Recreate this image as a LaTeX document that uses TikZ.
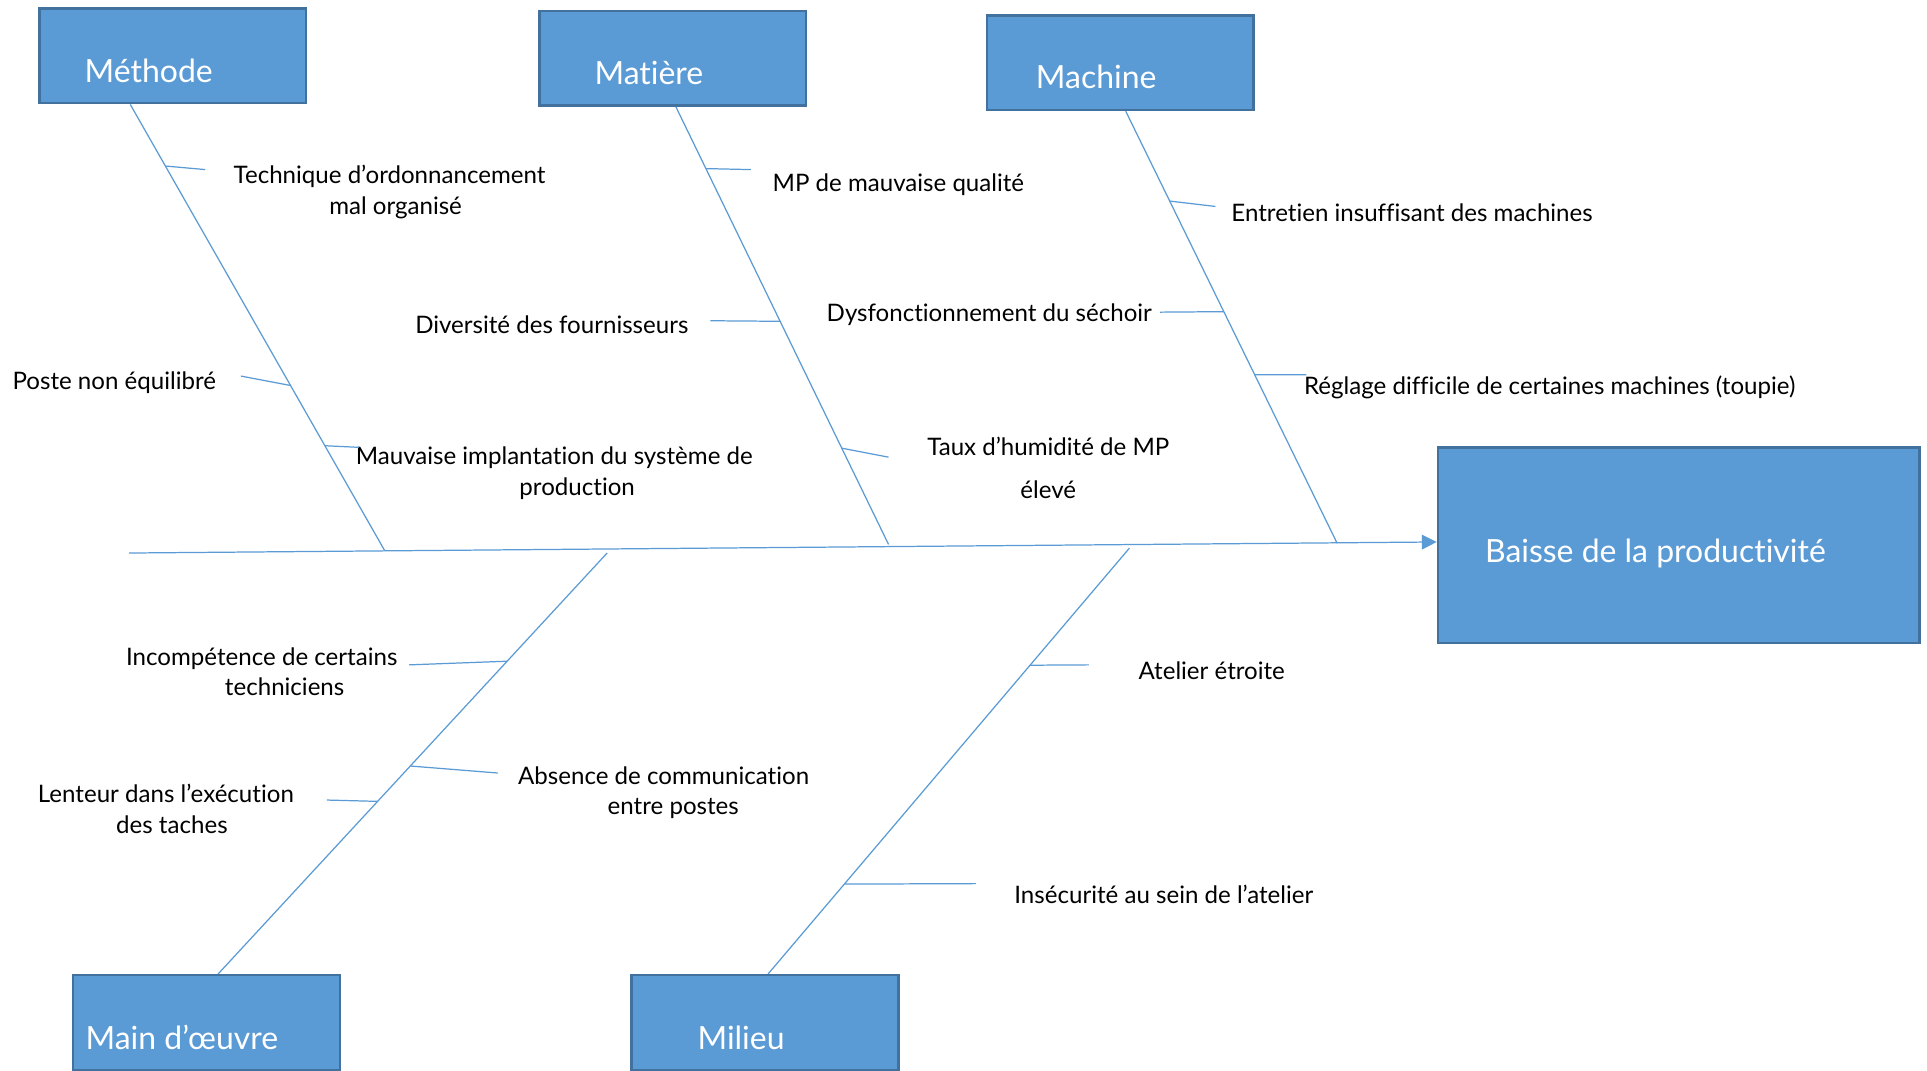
\documentclass[tikz,border=0pt]{standalone}
\usepackage{fontspec}
\setmainfont{Lato}[Ligatures=NoCommon]
\usetikzlibrary{arrows.meta,calc}
\definecolor{boxfill}{HTML}{5B9BD5}
\definecolor{boxedge}{HTML}{41719C}
\definecolor{bonecol}{HTML}{5B9BD5}
\tikzset{
  catbox/.style={draw=boxedge, line width=1pt, fill=boxfill, minimum width=108.5pt, minimum height=38.5pt, inner sep=0pt},
  cattext/.style={text=white, font=\fontsize{13}{16}\selectfont, inner sep=0pt, anchor=base},
  cause/.style={font=\fontsize{9.8}{12.5}\selectfont, align=center, inner sep=0pt},
  bone/.style={draw=bonecol, line width=0.5pt},
}
\begin{document}
\begin{tikzpicture}[x=0.5pt,y=-0.5pt]
\clip (0,0) rectangle (1568,871);
\fill[white] (0,0) rectangle (1568,871);

% category boxes
\node[catbox] (meth) at (140.5,45.5) {};
\node[catbox] (mat)  at (547.5,47.5) {};
\node[catbox] (mach) at (911.5,51) {};
\node[catbox] (mo)   at (168,832) {};
\node[catbox] (mil)  at (622.5,832) {};
\node[catbox, minimum width=196pt, minimum height=79.5pt] (eff) at (1366,443.5) {};

\node[cattext] (methT) at (121,67) {Méthode};
\node[cattext] (matT)  at (528,69) {Matière};
\node[cattext] (machT) at (892,72) {Machine};
\node[cattext] (moT)   at (148,854) {Main d’œuvre};
\node[cattext] (milT)  at (603,854) {Milieu};
\node[cattext] (effT)  at (1347,458) {Baisse de la productivité};

% spine
\coordinate (tail) at (105,450);
\coordinate (tip) at (1169,441);
\draw[bone, -{Triangle[length=6pt,width=6pt]}] (tail) -- (tip);

% main bones, from each category box to the spine
\coordinate (methS) at (313,448);
\coordinate (matS)  at (723,443);
\coordinate (machS) at (1088,442);
\coordinate (moS)   at (494,450);
\coordinate (milS)  at (919,446);
\path (meth.south west) ++(75,0) coordinate (methB);
\path (mat.south west) ++(112,0) coordinate (matB);
\path (mach.south west) ++(114,0) coordinate (machB);
\path (mo.north west) ++(119,0) coordinate (moB);
\path (mil.north west) ++(112,0) coordinate (milB);
\draw[bone] (methB) -- (methS);
\draw[bone] (matB) -- (matS);
\draw[bone] (machB) -- (machS);
\draw[bone] (moB) -- (moS);
\draw[bone] (milB) -- (milS);

% causes: Méthode
\node[cause] (c1) at (317,156.5) {Technique d’ordonnancement\\\hspace*{0.5em}mal organisé};
\node[cause] (c2) at (93,311) {Poste non équilibré};
\node[cause] (c3) at (451,385) {Mauvaise implantation du système de\\\hspace*{1.9em}production};
\coordinate (e1) at (167,138);
\coordinate (e2) at (196,306);
\coordinate (e3) at (292,364);
\draw[bone] ($(methB)!0.138!(methS)$) -- (e1);
\draw[bone] ($(methB)!0.63!(methS)$) -- (e2);
\draw[bone] ($(methB)!0.765!(methS)$) -- (e3);

% causes: Matière
\node[cause] (c4) at (731,150) {MP de mauvaise qualité};
\node[cause] (c5) at (449,264) {Diversité des fournisseurs};
\node[cause] (c6) at (853,380.5) {Taux d’humidité de MP\\[5pt]élevé};
\coordinate (e4) at (611,138);
\coordinate (e5) at (578,261);
\coordinate (e6) at (723,372);
\draw[bone] ($(matB)!0.141!(matS)$) -- (e4);
\draw[bone] ($(matB)!0.49!(matS)$) -- (e5);
\draw[bone] ($(matB)!0.78!(matS)$) -- (e6);

% causes: Machine
\node[cause] (c7) at (1149,173) {Entretien insuffisant des machines};
\node[cause] (c8) at (805,256) {Dysfonctionnement du séchoir};
\node[cause] (c9) at (1261,315) {Réglage difficile de certaines machines (toupie)};
\coordinate (e7) at (989,168);
\coordinate (e8) at (944,254);
\coordinate (e9) at (1063,305);
\draw[bone] ($(machB)!0.208!(machS)$) -- (e7);
\draw[bone] ($(machB)!0.464!(machS)$) -- (e8);
\draw[bone] ($(machB)!0.61!(machS)$) -- (e9);

% causes: Main d'oeuvre
\node[cause] (c10) at (213,546.5) {Incompétence de certains\\\hspace*{1.9em}techniciens};
\node[cause] (c11) at (540,645) {Absence de communication\\\hspace*{0.8em}entre postes};
\node[cause] (c12) at (135,658) {Lenteur dans l’exécution\\\hspace*{0.5em}des taches};
\coordinate (e10) at (333,541);
\coordinate (e11) at (405,629);
\coordinate (e12) at (266,651);
\draw[bone] ($(moB)!0.743!(moS)$) -- (e10);
\draw[bone] ($(moB)!0.494!(moS)$) -- (e11);
\draw[bone] ($(moB)!0.41!(moS)$) -- (e12);

% causes: Milieu
\node[cause] (c13) at (986,546) {Atelier étroite};
\node[cause] (c14) at (947,728) {Insécurité au sein de l’atelier};
\coordinate (e13) at (886,541);
\coordinate (e14) at (794,719);
\draw[bone] ($(milB)!0.725!(milS)$) -- (e13);
\draw[bone] ($(milB)!0.211!(milS)$) -- (e14);
\end{tikzpicture}
\end{document}
